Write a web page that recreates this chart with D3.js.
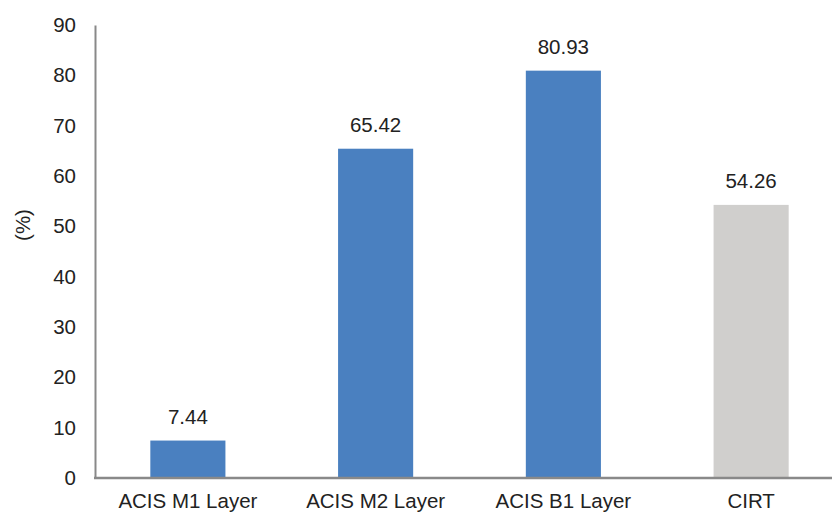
<!DOCTYPE html>
<html>
<head>
<meta charset="utf-8">
<script src="https://cdn.jsdelivr.net/npm/d3@7"></script>
<style>
  html, body { margin: 0; padding: 0; background: #fff; }
  svg { display: block; font-family: "Liberation Sans", Arial, sans-serif; }
</style>
</head>
<body>
<svg id="chart" width="832" height="513"></svg>
<script>
// Chart data
const categories = ["ACIS M1 Layer", "ACIS M2 Layer", "ACIS B1 Layer", "CIRT"];
const values = [7.44, 65.42, 80.93, 54.26];
const barColors = ["#4a80c0", "#4a80c0", "#4a80c0", "#d0cfcd"];
const yTicks = [0, 10, 20, 30, 40, 50, 60, 70, 80, 90];
const yLabel = "(%)";

const svg = d3.select("#chart");
const plot = { left: 94, right: 845, top: 25, bottom: 478 };

const x = d3.scaleBand()
  .domain(categories)
  .range([plot.left, plot.right])
  .paddingInner(0.6)
  .paddingOuter(0.3);

const y = d3.scaleLinear().domain([0, 90]).range([plot.bottom, plot.top]);

const textColor = "#222";
const fontSize = 20.5;

// Bars
svg.append("g").selectAll("rect")
  .data(categories)
  .join("rect")
  .attr("x", d => x(d))
  .attr("width", x.bandwidth())
  .attr("y", (d, i) => y(values[i]))
  .attr("height", (d, i) => y(0) - y(values[i]))
  .attr("fill", (d, i) => barColors[i]);

// Value labels
svg.append("g").selectAll("text")
  .data(categories)
  .join("text")
  .attr("x", d => x(d) + x.bandwidth() / 2)
  .attr("y", (d, i) => y(values[i]) - 16.5)
  .attr("text-anchor", "middle")
  .attr("font-size", fontSize)
  .attr("fill", textColor)
  .text((d, i) => values[i].toFixed(2));

// Y axis
const yAxis = svg.append("g")
  .attr("transform", `translate(${plot.left + 1},0)`)
  .call(d3.axisLeft(y).tickValues(yTicks).tickSize(0).tickPadding(19));
yAxis.select(".domain").attr("stroke", "#898989").attr("stroke-width", 2);
yAxis.selectAll("text")
  .attr("font-size", fontSize)
  .attr("font-family", "Liberation Sans, Arial, sans-serif")
  .attr("fill", textColor);

// X axis
const xAxis = svg.append("g")
  .attr("transform", `translate(0,${plot.bottom})`)
  .call(d3.axisBottom(x).tickSize(0).tickPadding(15.5));
xAxis.select(".domain").attr("stroke", "#898989").attr("stroke-width", 2.5)
  .attr("d", `M${plot.left},0H${plot.right}`);
xAxis.selectAll("text")
  .attr("font-size", fontSize)
  .attr("font-family", "Liberation Sans, Arial, sans-serif")
  .attr("fill", textColor);

// Y axis title
svg.append("text")
  .attr("transform", "translate(30,225) rotate(-90)")
  .attr("text-anchor", "middle")
  .attr("font-size", fontSize)
  .attr("fill", textColor)
  .text(yLabel);
</script>
</body>
</html>
